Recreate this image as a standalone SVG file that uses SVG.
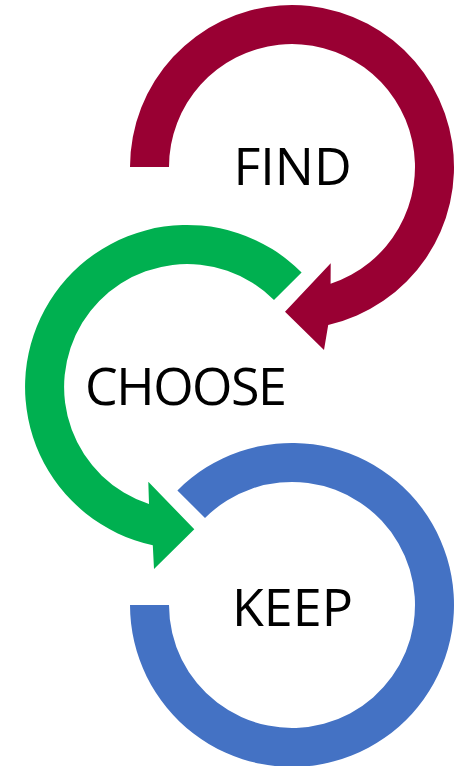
<svg xmlns="http://www.w3.org/2000/svg" width="467" height="766" viewBox="0 0 467 766">
  <style>
    .label { font-family: "Open Sans", "Liberation Sans", sans-serif; font-size: 52px; fill: #000000; text-anchor: middle; }
    .red { fill: #990033; }
    .green { fill: #00B050; }
    .blue { fill: #4472C4; }
  </style>
  <rect width="467" height="766" fill="#ffffff"/>
  <g id="connectors">
    <path class="red" d="M130,167 A162,162 0 1 1 328.2,324.9 L324,350 L285,311.7 L330.7,263.3 L330.6,283.8 A123,123 0 1 0 169,167 Z"/>
    <path class="green" d="M301.6,272.4 A162,162 0 1 0 152.8,545.3 L154,569 L194.3,529.3 L148.3,481.7 L149,504 A123,123 0 1 1 274,300 Z"/>
    <path class="blue" d="M177.4,490.4 A162,162 0 1 1 130,605 L169,605 A123,123 0 1 0 205,518 Z"/>
  </g>
  <g id="node-find">
    <text class="label" x="292.5" y="185">FIND</text>
  </g>
  <g id="node-choose">
    <text class="label" x="186" y="405" textLength="202" lengthAdjust="spacing">CHOOSE</text>
  </g>
  <g id="node-keep">
    <text class="label" x="292.5" y="626">KEEP</text>
  </g>
</svg>
